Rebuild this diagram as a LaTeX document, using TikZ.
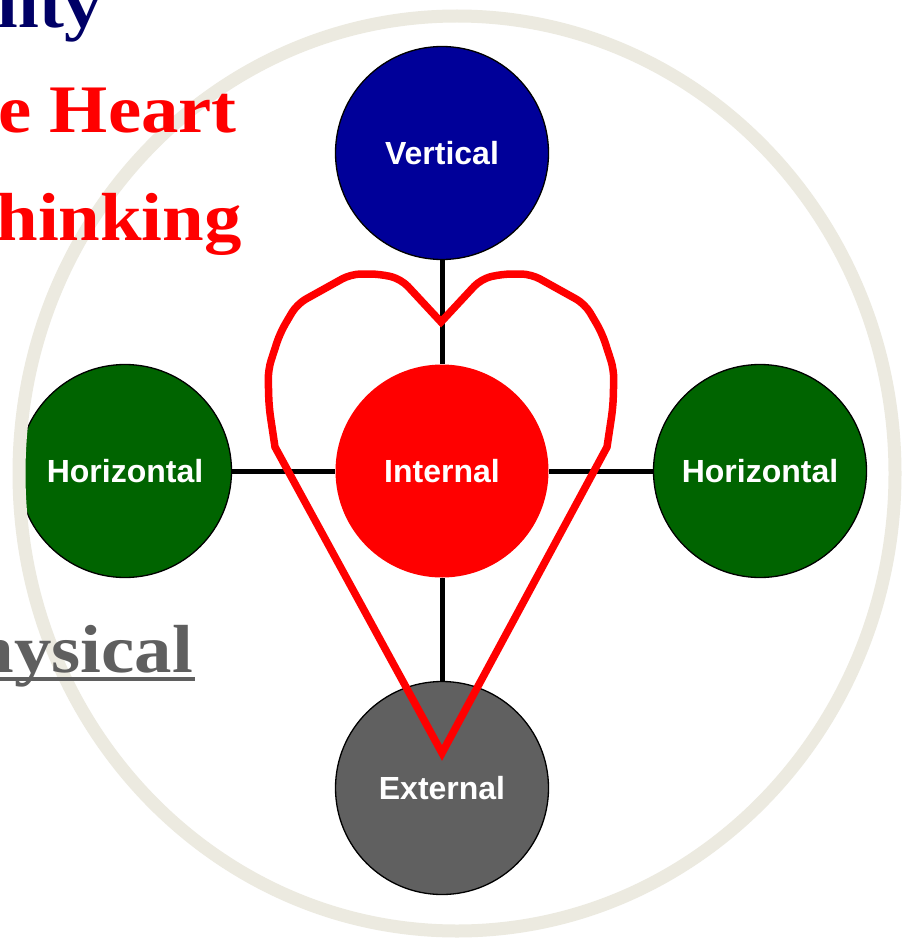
\documentclass[tikz,border=0pt]{standalone}
\usepackage{fontspec}
\setmainfont{Liberation Serif}
\newfontfamily\slidefont[FakeStretch=1.1]{Liberation Serif}
\newfontfamily\labelfont{Liberation Sans}
\definecolor{ringc}{RGB}{236,234,224}
\definecolor{vblue}{RGB}{0,0,153}
\definecolor{hgreen}{RGB}{0,100,0}
\definecolor{egray}{RGB}{96,96,96}
\definecolor{ired}{RGB}{255,0,0}
\definecolor{navy}{RGB}{0,0,102}
\definecolor{txtgray}{RGB}{95,95,95}
\tikzset{
  ball/.style={circle, minimum size=213pt, inner sep=0pt, draw=black, line width=1.3pt,
    text=white, font=\labelfont\bfseries\fontsize{32}{32}\selectfont},
  link/.style={line width=5pt, draw=black},
  heart/.style={draw=ired, line width=7.5pt, line join=miter, miter limit=10},
  ring/.style={draw=ringc, line width=13pt},
  slidetext/.style={font=\slidefont\bfseries\fontsize{68}{68}\selectfont, anchor=base east, inner sep=0pt}
}
\begin{document}
\begin{tikzpicture}[x=1pt,y=-1pt]
\useasboundingbox (0,0) rectangle (909,944);
\clip (0,0) rectangle (909,944);
\fill[white] (0,0) rectangle (909,944);
% circles
\node[ball, fill=vblue] (V) at (442,153) {Vertical};
\node[ball, fill=ired, draw=none] (I) at (442,471) {Internal};
\node[ball, fill=hgreen] (HL) at (125,471) {Horizontal};
\node[ball, fill=hgreen] (HR) at (760,471) {Horizontal};
\node[ball, fill=egray] (E) at (442,788) {External};
% connectors
\draw[link] (V) -- (I);
\draw[link] (HL) -- (I);
\draw[link] (I) -- (HR);
\draw[link] (I) -- (E);
% heart
\draw[heart] (442,753) -- (275,447) [rounded corners=10pt] -- (269,407) -- (268,370) -- (280,333) -- (297,304)
  -- (351,274) -- (380,274) -- (401,279) [sharp corners] -- (441,322) [rounded corners=10pt] -- (481,279) -- (502,274)
  -- (531,274) -- (585,304) -- (602,333) -- (614,370) -- (613,407) [sharp corners] -- (607,447) -- cycle;
% ring
\draw[ring] (457,473.5) ellipse [x radius=438, y radius=457.5];
% slide text
\node[slidetext, text=navy] (t1) at (102,28) {ality};
\node[slidetext, text=ired] (t2) at (237,133) {e Heart};
\node[slidetext, text=ired] (t3) at (242,240) {hinking};
\node[slidetext, text=txtgray] (t4) at (193,672) {hysical};
\fill[txtgray] (0,677) rectangle (195,681);
\end{tikzpicture}
\end{document}
